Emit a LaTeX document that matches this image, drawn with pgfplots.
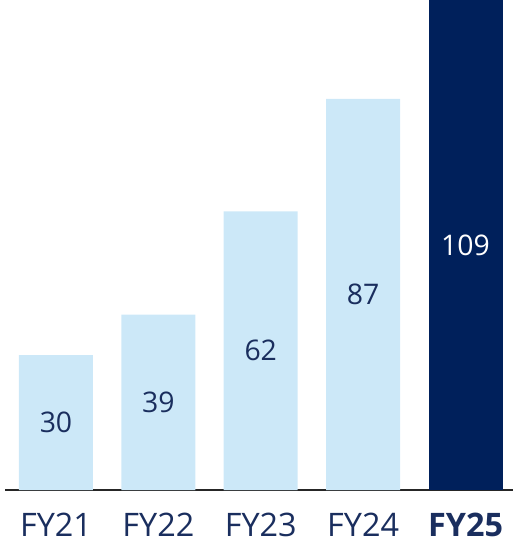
\documentclass[border=0pt]{standalone}
\usepackage{fontspec}
\setmainfont{Open Sans}
\usepackage{pgfplots}
\pgfplotsset{compat=1.18}
\definecolor{lightbar}{HTML}{CCE8F8}
\definecolor{navybar}{HTML}{00205B}
\definecolor{navytext}{HTML}{1A2E5E}
\begin{document}
\begin{tikzpicture}
\begin{axis}[
    width=508bp, height=490bp,
    scale only axis,
    xmin=-0.498, xmax=4.464,
    ymin=0, ymax=109,
    axis x line=bottom, axis y line=none,
    x axis line style={-, line width=1.1bp, black!85},
    xtick={0,1,2,3,4},
    xticklabels={FY21,FY22,FY23,FY24,\textbf{FY25}},
    major tick length=0pt,
    xticklabel style={font=\fontsize{32.5}{38}\selectfont, text=navytext,
        anchor=base, inner sep=0pt, yshift=-46bp},
    ytick=\empty,
    clip=false,
]
\addplot[ybar, bar width=74bp, bar shift=0pt, fill=lightbar, draw=none]
    coordinates {(0,30) (1,39) (2,62) (3,87)};
\addplot[ybar, bar width=74bp, bar shift=0pt, fill=navybar, draw=none]
    coordinates {(4,109)};
\addplot[draw=none, mark=none, nodes near coords, point meta=explicit symbolic,
    every node near coord/.style={anchor=center, text=navytext, font=\fontsize{28.5}{34}\selectfont}]
    coordinates {(0,15)[30] (1,19.5)[39] (2,31)[62] (3,43.5)[87]};
\addplot[draw=none, mark=none, nodes near coords, point meta=explicit symbolic,
    every node near coord/.style={anchor=center, text=white, font=\fontsize{28.5}{34}\selectfont}]
    coordinates {(4,54.5)[109]};
\coordinate (bl) at (rel axis cs:0,0);
\coordinate (tr) at (rel axis cs:1,1);
\end{axis}
\pgfresetboundingbox
\path (bl) ++(-5bp,-53bp) rectangle (tr);
\end{tikzpicture}
\end{document}
